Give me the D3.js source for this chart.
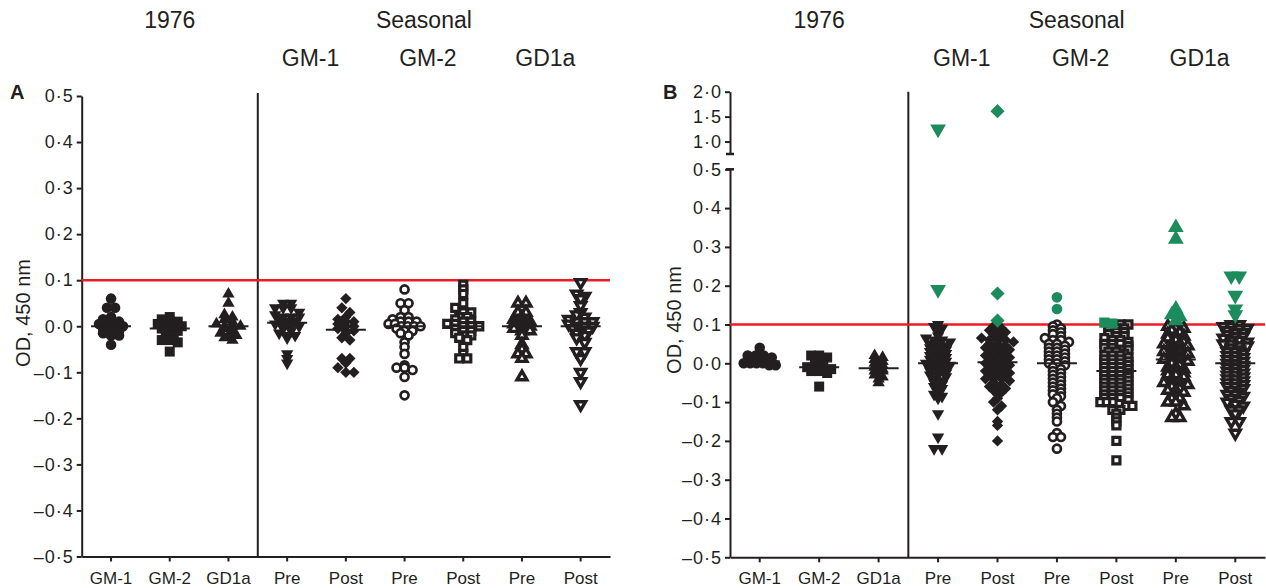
<!DOCTYPE html>
<html lang="en">
<head>
    <meta charset="UTF-8">
    <title>OD 450 nm scatter</title>
    <script src="https://d3js.org/d3.v7.min.js"></script>
    <style>
        body { margin: 0; background: #fff; }
        svg text { font-family: "Liberation Sans", Arial, Helvetica, sans-serif; fill: #231f20; }
        .axis path, .axis line { stroke: #231f20; stroke-width: 2px; }
        .axis text { font-size: 17px; }
        .yaxis text { font-size: 18px; letter-spacing: 1px; }
        .header { font-size: 23px; }
        .ylabel { font-size: 20px; }
        .panel-letter { font-size: 20px; font-weight: bold; }
    </style>
</head>
<body>
<svg id="chart" width="1266" height="588"></svg>
<script>
    // ---- data ----
    var categories = ["GM-1", "GM-2", "GD1a", "Pre", "Post", "Pre", "Post", "Pre", "Post"];
    var topHeaders = ["1976", "Seasonal"];
    var subHeaders = ["GM-1", "GM-2", "GD1a"];
    var panelLetters = ["A", "B"];
    var yLabel = "OD, 450 nm";
    var cutoff = 0.1;
    var yTicksMain = [-0.5, -0.4, -0.3, -0.2, -0.1, 0.0, 0.1, 0.2, 0.3, 0.4, 0.5];
    var yTicksUpper = [1.0, 1.5, 2.0];

    // panel A
    var aGM1_1976 = [0.06, 0.04, 0.04, 0.02, 0.015, 0.01, 0.01, 0.005, 0.0, 0.0, 0.0, -0.005, -0.01, -0.01, -0.015, -0.02, -0.02, -0.04];
    var aGM2_1976 = [0.02, 0.015, 0.01, 0.01, 0.005, 0.0, 0.0, 0.0, -0.005, -0.01, -0.01, -0.015, -0.02, -0.03, -0.03, -0.035, -0.055];
    var aGD1a_1976 = [0.07, 0.05, 0.025, 0.02, 0.015, 0.01, 0.005, 0.0, 0.0, 0.0, -0.005, -0.01, -0.015, -0.02, -0.02, -0.025, -0.03];
    var aGM1Pre = [0.05, 0.05, 0.04, 0.04, 0.04, 0.03, 0.025, 0.02, 0.02, 0.02, 0.015, 0.01, 0.01, 0.005, 0.0, 0.0, 0.0, -0.005, -0.01, -0.015, -0.02, -0.02, -0.025, -0.06, -0.07, -0.08];
    var aGM1Post = [0.06, 0.04, 0.03, 0.02, 0.015, 0.01, 0.01, 0.005, 0.0, 0.0, -0.005, -0.01, -0.01, -0.015, -0.025, -0.03, -0.07, -0.07, -0.08, -0.09, -0.1, -0.1];
    var aGM2Pre = [0.08, 0.05, 0.05, 0.035, 0.02, 0.02, 0.015, 0.01, 0.01, 0.01, 0.005, 0.005, 0.0, 0.0, 0.0, 0.0, -0.005, -0.01, -0.01, -0.015, -0.02, -0.035, -0.045, -0.06, -0.085, -0.09, -0.09, -0.095, -0.11, -0.15];
    var aGM2Post = [0.09, 0.08, 0.07, 0.05, 0.04, 0.03, 0.03, 0.02, 0.02, 0.015, 0.01, 0.01, 0.005, 0.005, 0.0, 0.0, 0.0, -0.005, -0.01, -0.01, -0.015, -0.02, -0.02, -0.025, -0.03, -0.045, -0.06, -0.07, -0.07];
    var aGD1aPre = [0.05, 0.05, 0.03, 0.03, 0.02, 0.015, 0.01, 0.01, 0.005, 0.0, 0.0, -0.005, -0.01, -0.01, -0.02, -0.04, -0.05, -0.06, -0.06, -0.07, -0.11];
    var aGD1aPost = [0.095, 0.07, 0.065, 0.06, 0.045, 0.03, 0.025, 0.02, 0.015, 0.01, 0.01, 0.01, 0.005, 0.0, 0.0, 0.0, -0.005, -0.01, -0.01, -0.015, -0.02, -0.025, -0.035, -0.055, -0.055, -0.07, -0.1, -0.12, -0.17];

    // panel B
    var bGM1_1976 = [0.04, 0.02, 0.02, 0.02, 0.015, 0.01, 0.005, 0.005, 0.0, 0.0, 0.0, 0.0, -0.005, -0.005];
    var bGM2_1976 = [0.02, 0.02, 0.015, 0.01, 0.005, 0.0, -0.005, -0.01, -0.01, -0.015, -0.015, -0.02, -0.02, -0.025, -0.06];
    var bGD1a_1976 = [0.02, 0.015, 0.01, 0.005, 0.0, -0.005, -0.01, -0.015, -0.02, -0.02, -0.03, -0.035, -0.04, -0.05];
    var bGM1Pre = [1.25, 0.19, 0.1, 0.095, 0.09, 0.08, 0.07, 0.065, 0.06, 0.06, 0.055, 0.05, 0.05, 0.045, 0.04, 0.04, 0.035, 0.03, 0.03, 0.025, 0.02, 0.02, 0.015, 0.01, 0.01, 0.005, 0.0, 0.0, 0.0, -0.005, -0.01, -0.01, -0.015, -0.02, -0.02, -0.025, -0.03, -0.03, -0.035, -0.04, -0.045, -0.05, -0.055, -0.06, -0.065, -0.07, -0.08, -0.085, -0.09, -0.13, -0.19, -0.22, -0.22];
    var bGM1Post = [1.61, 0.18, 0.11, 0.1, 0.095, 0.09, 0.085, 0.08, 0.08, 0.075, 0.07, 0.065, 0.06, 0.06, 0.06, 0.055, 0.05, 0.05, 0.045, 0.04, 0.04, 0.04, 0.035, 0.03, 0.03, 0.025, 0.02, 0.02, 0.02, 0.015, 0.01, 0.01, 0.005, 0.0, 0.0, 0.0, -0.005, -0.01, -0.01, -0.015, -0.02, -0.02, -0.02, -0.025, -0.03, -0.03, -0.035, -0.04, -0.04, -0.04, -0.045, -0.05, -0.055, -0.06, -0.06, -0.065, -0.07, -0.075, -0.08, -0.09, -0.1, -0.11, -0.12, -0.15, -0.16, -0.2];
    var bGM2Pre = [0.17, 0.14, 0.1, 0.095, 0.09, 0.085, 0.08, 0.075, 0.07, 0.065, 0.06, 0.06, 0.055, 0.05, 0.05, 0.045, 0.04, 0.04, 0.035, 0.03, 0.03, 0.025, 0.02, 0.02, 0.015, 0.01, 0.01, 0.005, 0.0, 0.0, -0.005, -0.01, -0.015, -0.02, -0.025, -0.03, -0.035, -0.04, -0.045, -0.05, -0.055, -0.06, -0.065, -0.07, -0.075, -0.08, -0.085, -0.09, -0.1, -0.11, -0.12, -0.13, -0.14, -0.15, -0.18, -0.19, -0.19, -0.22];
    var bGM2Post = [0.105, 0.102, 0.1, 0.1, 0.095, 0.09, 0.09, 0.085, 0.08, 0.08, 0.075, 0.07, 0.07, 0.065, 0.06, 0.06, 0.055, 0.05, 0.05, 0.05, 0.045, 0.04, 0.04, 0.035, 0.035, 0.03, 0.03, 0.025, 0.02, 0.02, 0.02, 0.015, 0.01, 0.01, 0.01, 0.005, 0.0, 0.0, 0.0, -0.005, -0.01, -0.01, -0.01, -0.015, -0.02, -0.02, -0.02, -0.025, -0.03, -0.03, -0.03, -0.035, -0.04, -0.04, -0.04, -0.045, -0.05, -0.05, -0.05, -0.055, -0.06, -0.06, -0.06, -0.065, -0.07, -0.07, -0.07, -0.075, -0.08, -0.08, -0.08, -0.085, -0.09, -0.09, -0.09, -0.095, -0.1, -0.1, -0.1, -0.105, -0.11, -0.11, -0.12, -0.12, -0.13, -0.14, -0.15, -0.16, -0.2, -0.25];
    var bGD1aPre = [0.35, 0.32, 0.14, 0.135, 0.125, 0.12, 0.11, 0.1, 0.095, 0.09, 0.09, 0.085, 0.08, 0.075, 0.07, 0.07, 0.065, 0.06, 0.055, 0.05, 0.05, 0.05, 0.045, 0.04, 0.035, 0.03, 0.03, 0.03, 0.025, 0.02, 0.015, 0.01, 0.01, 0.01, 0.005, 0.0, -0.005, -0.01, -0.01, -0.015, -0.02, -0.02, -0.025, -0.03, -0.03, -0.035, -0.04, -0.045, -0.05, -0.05, -0.05, -0.055, -0.06, -0.065, -0.07, -0.07, -0.075, -0.085, -0.09, -0.09, -0.1, -0.1, -0.11, -0.13, -0.14, -0.14];
    var bGD1aPost = [0.225, 0.225, 0.175, 0.14, 0.125, 0.1, 0.1, 0.095, 0.095, 0.09, 0.09, 0.085, 0.08, 0.08, 0.075, 0.07, 0.07, 0.065, 0.06, 0.06, 0.055, 0.05, 0.05, 0.045, 0.045, 0.04, 0.035, 0.03, 0.03, 0.025, 0.02, 0.02, 0.015, 0.01, 0.01, 0.005, 0.0, 0.0, -0.005, -0.01, -0.01, -0.015, -0.02, -0.02, -0.025, -0.03, -0.03, -0.035, -0.04, -0.04, -0.045, -0.05, -0.05, -0.055, -0.06, -0.06, -0.065, -0.07, -0.075, -0.08, -0.08, -0.085, -0.09, -0.095, -0.1, -0.105, -0.11, -0.12, -0.12, -0.13, -0.15, -0.15, -0.18];

    var panelAData = [aGM1_1976, aGM2_1976, aGD1a_1976, aGM1Pre, aGM1Post, aGM2Pre, aGM2Post, aGD1aPre, aGD1aPost];
    var panelBData = [bGM1_1976, bGM2_1976, bGD1a_1976, bGM1Pre, bGM1Post, bGM2Pre, bGM2Post, bGD1aPre, bGD1aPost];

    // ---- styles ----
    var ink = "#231f20";
    var green = "#1c8c5c";
    var red = "#ed1c24";

    // one marker per category (same order as categories)
    var markers = [
        {shape: d3.symbolCircle, size: 88, open: false, rot: 0, sw: 0},
        {shape: d3.symbolSquare, size: 100, open: false, rot: 0, sw: 0},
        {shape: d3.symbolTriangle, size: 66, open: false, rot: 0, sw: 0},
        {shape: d3.symbolTriangle, size: 66, open: false, rot: 180, sw: 0},
        {shape: d3.symbolSquare, size: 64, open: false, rot: 45, sw: 0},
        {shape: d3.symbolCircle, size: 50, open: true, rot: 0, sw: 2.7},
        {shape: d3.symbolSquare, size: 50, open: true, rot: 0, sw: 3.2},
        {shape: d3.symbolTriangle, size: 42, open: true, rot: 0, sw: 3.4},
        {shape: d3.symbolTriangle, size: 42, open: true, rot: 180, sw: 3.4}
    ];

    var svg = d3.select("#chart");

    function fmtTick(v) {
        return d3.format(".1f")(v).replace(".", "\u00b7").replace("\u2212", "\u2013").replace("-", "\u2013");
    }

    // column scatter: points that share a row are spread sideways around the centre
    function layoutGroup(values, i, x, yFn, binH, spacing, maxW) {
        var cx = x(i) + x.bandwidth() / 2;
        var pts = values.map(function (v) {
            return {v: v, y: yFn(v), cat: i};
        });
        var rows = d3.group(pts, function (p) {
            return Math.round(p.y / binH);
        });
        rows.forEach(function (row) {
            var n = row.length;
            var s = n > 1 ? Math.min(spacing, maxW / (n - 1)) : 0;
            row.forEach(function (p, k) {
                p.x = cx + (k - (n - 1) / 2) * s;
            });
        });
        return pts;
    }

    function drawPanel(opts) {
        var g = svg.append("g").attr("class", "panel");
        var x = d3.scaleBand().domain(d3.range(categories.length)).range(opts.xRange);
        var yFn = opts.yFn;
        var axisX = opts.xRange[0];
        var bottomY = opts.yMain.range()[0];

        // x axis
        g.append("g")
            .attr("class", "axis")
            .attr("transform", "translate(0," + bottomY + ")")
            .call(d3.axisBottom(x).tickSize(5).tickSizeOuter(0).tickPadding(10)
                .tickFormat(function (i) { return categories[i]; }));

        // y axis (main)
        g.append("g")
            .attr("class", "axis yaxis")
            .attr("transform", "translate(" + axisX + ",0)")
            .call(d3.axisLeft(opts.yMain).tickValues(yTicksMain).tickSize(5).tickSizeOuter(0)
                .tickPadding(3).tickFormat(fmtTick));

        // broken upper segment
        if (opts.yUpper) {
            g.append("g")
                .attr("class", "axis yaxis")
                .attr("transform", "translate(" + axisX + ",0)")
                .call(d3.axisLeft(opts.yUpper).tickValues(yTicksUpper).tickSize(5).tickSizeOuter(0)
                    .tickPadding(3).tickFormat(fmtTick));
            var caps = [opts.yUpper.range()[0], opts.yMain.range()[1]];
            g.selectAll(".cap").data(caps).enter().append("line")
                .attr("class", "cap")
                .attr("x1", axisX - 4).attr("x2", axisX + 4)
                .attr("y1", function (d) { return d; })
                .attr("y2", function (d) { return d; })
                .attr("stroke", ink).attr("stroke-width", 2.5);
        }

        // divider between 1976 and seasonal
        var topY = opts.yUpper ? opts.yUpper(d3.max(yTicksUpper)) : opts.yMain.range()[1] - 3;
        g.append("line")
            .attr("x1", x(3)).attr("x2", x(3))
            .attr("y1", topY).attr("y2", bottomY)
            .attr("stroke", ink).attr("stroke-width", 2);

        // cutoff line
        g.append("line")
            .attr("x1", axisX).attr("x2", opts.xRange[1])
            .attr("y1", yFn(cutoff)).attr("y2", yFn(cutoff))
            .attr("stroke", red).attr("stroke-width", 2.5);

        // points
        var pts = [];
        opts.data.forEach(function (vals, i) {
            pts = pts.concat(layoutGroup(vals, i, x, yFn, opts.binH, opts.spacing, opts.maxW));
        });
        pts.sort(function (a, b) { return (a.v > cutoff) - (b.v > cutoff); });

        g.append("g").selectAll("path")
            .data(pts)
            .enter().append("path")
            .attr("d", function (d) {
                var m = markers[d.cat];
                return d3.symbol(m.shape, m.size)();
            })
            .attr("transform", function (d) {
                return "translate(" + d.x + "," + d.y + ") rotate(" + markers[d.cat].rot + ")";
            })
            .attr("fill", function (d) {
                if (opts.highlight && d.v > cutoff) return green;
                return markers[d.cat].open ? "#fff" : ink;
            })
            .attr("stroke", function (d) {
                if (opts.highlight && d.v > cutoff) return green;
                return markers[d.cat].open ? ink : "none";
            })
            .attr("stroke-width", function (d) {
                return markers[d.cat].sw || 2;
            });

        // median lines
        g.append("g").selectAll("line")
            .data(opts.data)
            .enter().append("line")
            .attr("x1", function (d, i) { return x(i) + x.bandwidth() / 2 - 20; })
            .attr("x2", function (d, i) { return x(i) + x.bandwidth() / 2 + 20; })
            .attr("y1", function (d) { return yFn(d3.median(d)); })
            .attr("y2", function (d) { return yFn(d3.median(d)); })
            .attr("stroke", ink).attr("stroke-width", 2);

        // headers
        var mid = function (a, b) { return (x(a) + x(b) + x.bandwidth()) / 2; };
        g.append("text").attr("class", "header").attr("text-anchor", "middle")
            .attr("x", mid(0, 2)).attr("y", 28).text(topHeaders[0]);
        g.append("text").attr("class", "header").attr("text-anchor", "middle")
            .attr("x", mid(3, 8) - 10).attr("y", 28).text(topHeaders[1]);
        subHeaders.forEach(function (s, k) {
            g.append("text").attr("class", "header").attr("text-anchor", "middle")
                .attr("x", mid(3 + 2 * k, 4 + 2 * k) - 6).attr("y", 66).text(s);
        });

        // y label and panel letter
        g.append("text").attr("class", "ylabel").attr("text-anchor", "middle")
            .attr("transform", "translate(" + opts.yLabelPos[0] + "," + opts.yLabelPos[1] + ") rotate(-90)")
            .text(yLabel);
        g.append("text").attr("class", "panel-letter")
            .attr("x", opts.letterPos[0]).attr("y", opts.letterPos[1])
            .text(opts.letter);
    }

    // panel A
    var yA = d3.scaleLinear().domain([-0.5, 0.5]).range([556.5, 96]);
    drawPanel({
        data: panelAData,
        xRange: [81.7, 610],
        yMain: yA,
        yFn: yA,
        binH: 5, spacing: 8, maxW: 32,
        highlight: false,
        yLabelPos: [30, 313],
        letterPos: [10, 99],
        letter: panelLetters[0]
    });

    // panel B with broken axis
    var yBLow = d3.scaleLinear().domain([-0.5, 0.5]).range([557.3, 169.3]);
    var yBHigh = d3.scaleLinear().domain([0.75, 2.0]).range([154, 91.7]);
    drawPanel({
        data: panelBData,
        xRange: [730, 1265],
        yMain: yBLow,
        yUpper: yBHigh,
        yFn: function (v) { return v > 0.75 ? yBHigh(v) : yBLow(v); },
        binH: 4, spacing: 8, maxW: 32,
        highlight: true,
        yLabelPos: [681, 320],
        letterPos: [663, 99],
        letter: panelLetters[1]
    });
</script>
</body>
</html>
